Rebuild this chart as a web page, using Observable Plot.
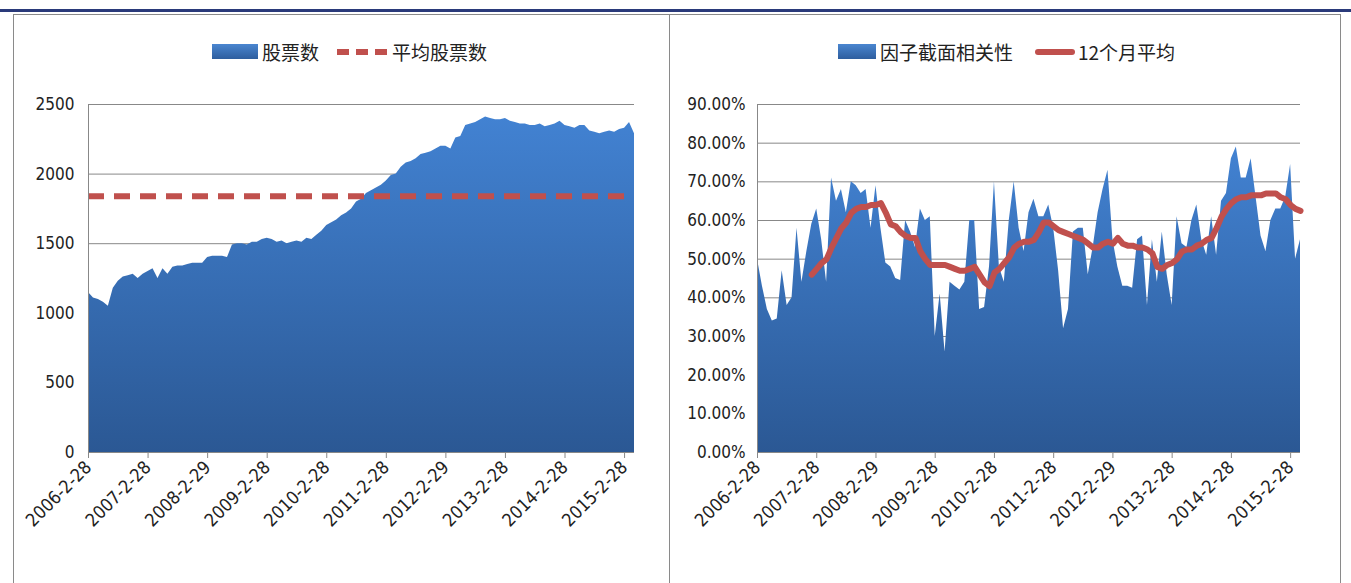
<!DOCTYPE html>
<html><head><meta charset="utf-8">
<script src="https://cdn.jsdelivr.net/npm/d3@7"></script>
<script src="https://cdn.jsdelivr.net/npm/@observablehq/plot@0.6"></script>
<style>
body{margin:0;background:#fff;width:1351px;height:583px;overflow:hidden;position:relative;font-family:"Liberation Sans Narrow","DejaVu Sans Condensed","Noto Sans CJK SC",sans-serif;}
.panel{position:absolute;top:14px;height:580px;border:1.5px solid #8a8a8a;box-sizing:border-box;}
.leg{position:absolute;top:38px;font-size:19px;color:#222;display:flex;align-items:center;font-family:"Noto Sans CJK SC",sans-serif;}
.sw{display:inline-block;margin-right:4px;}
svg text{font-family:"Liberation Sans Narrow","DejaVu Sans Condensed",sans-serif;}
</style></head><body>
<div style="position:absolute;left:0;top:9px;width:1351px;height:3px;background:#2a3a7a"></div>
<div class="panel" style="left:13px;width:657px"></div>
<div class="panel" style="left:669px;width:672px"></div>
<div id="c1" style="position:absolute;left:14px;top:0"></div>
<div id="c2" style="position:absolute;left:670px;top:0"></div>
<div class="leg" style="left:212px"><span class="sw" style="width:46px;height:15px;background:linear-gradient(#4a86d0,#2e5e9e)"></span>股票数<span class="sw" style="width:50px;height:0;border-top:6px dashed #c0504d;margin-left:18px;margin-right:5px"></span>平均股票数</div>
<div class="leg" style="left:838px"><span class="sw" style="width:38px;height:15px;background:linear-gradient(#4a86d0,#2e5e9e)"></span>因子截面相关性<span class="sw" style="width:40px;height:6px;background:#c0504d;border-radius:3px;margin-left:22px;margin-right:3px"></span>12个月平均</div>
<script>
const tickLabels=["2006-2-28","2007-2-28","2008-2-29","2009-2-28","2010-2-28","2011-2-28","2012-2-29","2013-2-28","2014-2-28","2015-2-28"];
const stockCount=[1150,1110,1100,1080,1050,1180,1230,1260,1270,1280,1250,1280,
1300,1320,1250,1320,1280,1330,1340,1340,1350,1360,1360,1360,
1400,1410,1410,1410,1400,1490,1500,1500,1490,1510,1510,1530,
1540,1530,1510,1520,1500,1510,1520,1510,1540,1530,1560,1590,
1630,1650,1670,1700,1720,1750,1800,1820,1860,1880,1900,1920,
1950,1990,2000,2050,2080,2090,2110,2140,2150,2160,2180,2200,
2200,2180,2260,2270,2350,2360,2370,2390,2410,2400,2390,2390,
2400,2380,2370,2360,2360,2350,2350,2360,2340,2350,2360,2380,
2350,2340,2330,2350,2350,2310,2300,2290,2300,2310,2300,2320,
2330,2370,2290];
const avgStock=1840;
const corr=[50,43,37,34,34.5,47,38,40,58,44,52,59,
63,55,44,71,65,68,62,70,69,67,68,58,
69,58,49,48,45,44.5,60,57,53,63,60,61,
30,41,26,44,43,42,44,60,60,37,37.5,48,
70,48,44,60,70,58,52,62,65.5,61,61,64,
58,47,32,37,57,58,58,46,53,62,68,73,
55,48,43,43,42.5,55,56,38,55,44,57,46,
38,61,54,53,60,64,55,51,61,51,65,67,
76,79,71,71,76,66,56,52,60,63,63,66,
74.5,50,55];
const ma12Start=11;
const ma12=[46,47.5,49,50,53,55.5,58,59.5,62,63,63.5,63.5,64,64,64.5,62,59,58.5,57,56,55.5,55.5,52,50,48.5,48.5,48.5,
48.5,48,47.5,47,47,47.5,48,46,44,43,46.5,47.5,49,50.5,53,54,54.5,54.5,55,57,59.5,59.5,
58.5,57.5,57,56.5,56,55.5,55,54,53,53,54,54.5,54,55.5,54,53.5,53.5,53,53,52.5,51.5,48,47.5,48.5,
49,50,52,52.5,52.5,53.5,54,55,55.5,58,61,63,64.5,65.5,66,66,66.5,66.5,66.5,67,67,67,66,65.5,64,63,62.5];

const n=stockCount.length;
const dS=stockCount.map((v,i)=>({i,v}));
const dC=corr.map((v,i)=>({i,v}));
const dM=ma12.map((v,k)=>({i:k+ma12Start,v}));
const tickIdx=tickLabels.map((_,k)=>k*12);
const fmtX=i=>tickLabels[i/12];

function addGrad(svg,id){
  const defs=d3.select(svg).insert("defs",":first-child");
  const g=defs.append("linearGradient").attr("id",id).attr("x1",0).attr("x2",0).attr("y1",0).attr("y2",1);
  g.append("stop").attr("offset","0%").attr("stop-color","#4282d2");
  g.append("stop").attr("offset","100%").attr("stop-color","#2b5894");
}
function styleAxes(svg){
  d3.select(svg).selectAll("text").attr("fill","#222");
}
const common={height:583,x:{domain:[0,n-1],ticks:tickIdx,tickFormat:fmtX,tickRotate:-45,tickSize:6,label:null},style:{fontSize:"17px",overflow:"visible"}};

const p1=Plot.plot({...common,width:654,marginLeft:74,marginRight:34,marginTop:104,marginBottom:131,
  y:{domain:[0,2500],ticks:d3.range(0,2501,500),tickFormat:d=>String(d),label:null,tickSize:0,tickPadding:14},
  marks:[
    Plot.gridY(d3.range(0,2501,500),{stroke:"#888",strokeOpacity:1}),
    Plot.areaY(dS,{x:"i",y:"v",fill:"url(#g1)"}),
    Plot.ruleY([avgStock],{x1:0,x2:n-1-2,stroke:"#c0504d",strokeWidth:6,strokeDasharray:"16,10"}),
    Plot.ruleX([0],{stroke:"#888"}),
    Plot.ruleY([0],{stroke:"#888"}),
    Plot.axisX({ticks:tickIdx,tickFormat:fmtX,tickRotate:-45,tickSize:6,stroke:"#888",fontSize:18})
  ]});
addGrad(p1,"g1");
document.getElementById("c1").append(p1);

const p2=Plot.plot({...common,width:670,marginLeft:87,marginRight:40,marginTop:104,marginBottom:131,
  y:{domain:[0,90],ticks:d3.range(0,91,10),tickFormat:d=>d.toFixed(2)+"%",label:null,tickSize:0,tickPadding:12},
  marks:[
    Plot.gridY(d3.range(0,91,10),{stroke:"#888",strokeOpacity:1}),
    Plot.areaY(dC,{x:"i",y:"v",fill:"url(#g2)"}),
    Plot.lineY(dM,{x:"i",y:"v",stroke:"#c0504d",strokeWidth:6,strokeLinejoin:"round",strokeLinecap:"round"}),
    Plot.ruleX([0],{stroke:"#888"}),
    Plot.ruleY([0],{stroke:"#888"}),
    Plot.axisX({ticks:tickIdx,tickFormat:fmtX,tickRotate:-45,tickSize:6,stroke:"#888",fontSize:18})
  ]});
addGrad(p2,"g2");
document.getElementById("c2").append(p2);
styleAxes(p1);styleAxes(p2);
</script></body></html>
